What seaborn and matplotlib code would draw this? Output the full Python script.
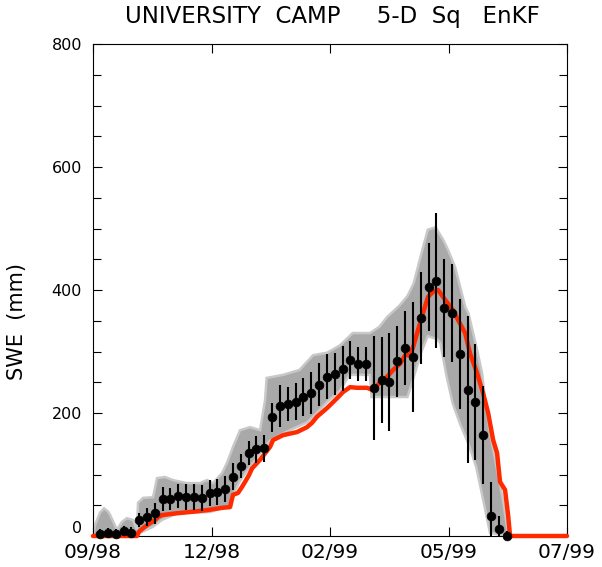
import numpy as np
import pandas as pd
import matplotlib
matplotlib.use("Agg")
import matplotlib.pyplot as plt
import seaborn as sns

# x axis: days since 1 Sep 1998 (axis runs to 1 Jul 1999)
x_ticks = [0, 75.75, 151.5, 227.25, 303]
x_ticklabels = ["09/98", "12/98", "02/99", "05/99", "07/99"]
y_ticks = [0, 200, 400, 600, 800]

# simulated truth SWE (mm)
truth_day = [0, 28.1, 29.4, 33.2, 36.4, 39.6, 41.6, 44.1, 53.7, 62.0, 72.9, 83.1,
             87.6, 89.5, 92.7, 95.3, 97.2, 99.7, 101.7, 106.8, 113.2, 115.1, 121.5,
             130.4, 136.8, 140.0, 143.2, 149.6, 156.0, 159.8, 164.3, 168.8, 175.2,
             179.0, 183.5, 188.0, 191.8, 196.3, 199.5, 202.7, 204.6, 207.2, 211.0,
             214.2, 217.4, 220.6, 225.1, 230.2, 233.4, 237.9, 241.0, 245.5, 249.4,
             252.6, 255.8, 258.3, 260.2, 263.4, 265.3, 266.6, 303]
truth_swe = [0, 0, 7, 15, 21, 26, 31, 34, 37, 39, 42, 46,
             47, 67, 70, 80, 88, 99, 110, 124, 145, 156, 164,
             169, 177, 184, 194, 208, 224, 234, 242, 241, 241,
             237, 250, 259, 270, 280, 294, 294, 307, 330, 363,
             389, 397, 400, 384, 367, 351, 330, 297, 265, 232,
             200, 156, 135, 88, 75, 35, 0, 0]

# 5-day analysis: ensemble mean and spread
obs_day = np.arange(4.5, 265, 5)
obs_swe = [3, 5, 3, 8, 5, 26, 31, 37, 60, 60, 65, 63, 63, 62, 70, 72, 76,
           96, 114, 135, 141, 143, 193, 211, 215, 218, 226, 233, 246, 259, 263,
           272, 286, 280, 280, 241, 254, 250, 284, 306, 291, 354, 405, 415, 371,
           363, 296, 238, 218, 164, 33, 11, 0]
obs_err = [8, 8, 8, 9, 9, 12, 14, 17, 20, 18, 20, 21, 21, 21, 21, 21, 21,
           22, 20, 20, 22, 22, 24, 34, 28, 30, 31, 34, 35, 37, 34, 37, 31, 28,
           28, 85, 70, 80, 58, 60, 90, 75, 72, 110, 80, 80, 90, 120, 95, 80,
           55, 22, 8]

# ensemble envelope (upper / lower member bounds)
ens_hi_day = [0, 1.3, 4.5, 7, 9.6, 11, 15.3, 18.5, 21.7, 25.6, 28.1, 28.8, 32, 38.4,
              40.9, 46, 51, 60, 68.4, 72.9, 76.7, 82.4, 85.7, 89.5, 94, 100.4, 106.8,
              110, 111, 121.5, 132, 140.7, 149.6, 157.9, 166, 172.6, 177, 183, 188,
              196, 201, 205, 210, 214, 219, 224, 227, 231.5, 234.7, 238, 240, 243,
              246, 248.7, 250.6, 253.8, 258, 262, 265.3, 266]
ens_hi_swe = [0, 18, 38, 45, 40, 34, 10, 23, 29, 26, 10, 54, 62, 63,
              94, 96, 91, 86, 86, 91, 86, 102, 119, 145, 172, 177, 172,
              221, 257, 262, 270, 294, 298, 310, 330, 330, 330, 340, 356,
              375, 390, 411, 460, 498, 502, 481, 465, 437, 405, 372, 362, 330,
              297, 265, 221, 167, 112, 59, 5, 0]
ens_lo_day = [0, 28, 30, 38.4, 44, 54, 75, 83, 87.6, 89.5, 94, 102, 113, 124, 137,
              143, 149.6, 158, 162, 164, 177, 178, 201, 204, 210, 214, 220, 222,
              226, 230, 235, 240, 245, 249.4, 253.8, 266]
ens_lo_swe = [0, 0, 5, 15, 26, 37, 39, 46, 47, 67, 90, 118, 155, 170, 185,
              200, 218, 237, 254, 262, 262, 226, 226, 250, 300, 325, 320, 314,
              260, 215, 180, 150, 112, 59, 5, 0]

truth = pd.DataFrame({"day": truth_day, "swe": truth_swe})
obs = pd.DataFrame({"day": obs_day, "swe": obs_swe, "err": obs_err})

sns.set_style("ticks")
plt.rcParams["font.family"] = ["DejaVu Sans"]
plt.rcParams["text.color"] = "black"
plt.rcParams["axes.labelcolor"] = "black"
plt.rcParams["xtick.color"] = "black"
plt.rcParams["ytick.color"] = "black"

fig = plt.figure(figsize=(6.02, 5.67), dpi=100)
ax = fig.add_axes([93 / 602, 1 - 536 / 567, 474 / 602, 492 / 567])

# ensemble members as a shaded envelope
env_x = np.r_[ens_hi_day, ens_lo_day[::-1]]
env_y = np.r_[ens_hi_swe, ens_lo_swe[::-1]]
ax.fill(env_x, env_y, facecolor="#a9a9a9", edgecolor="#c8c8c8",
        linewidth=1.8, zorder=1)

sns.lineplot(data=truth, x="day", y="swe", color="#ff2a00", linewidth=3.2,
             sort=False, estimator=None, ax=ax, zorder=3)
for ln in ax.get_lines():
    ln.set_clip_on(False)

ax.errorbar(obs["day"], obs["swe"], yerr=obs["err"], fmt="none",
            ecolor="black", elinewidth=1.5, capsize=0, zorder=4)
sns.scatterplot(data=obs, x="day", y="swe", color="black", s=40,
                marker="o", edgecolor="black", linewidth=0.5, ax=ax, zorder=5)
ax.collections[-1].set_clip_on(False)

ax.set_xlim(0, 303)
ax.set_ylim(0, 800)
ax.set_xticks(x_ticks)
ax.set_xticklabels(x_ticklabels)
ax.set_yticks(y_ticks)
ax.set_yticks(np.arange(0, 801, 50), minor=True)
ax.tick_params(axis="both", which="both", direction="in", top=True,
               right=True, color="black", width=0.8)
ax.tick_params(axis="both", which="major", length=6.5)
ax.tick_params(axis="x", which="major", labelsize=14.5, pad=5)
ax.tick_params(axis="y", which="major", labelsize=11.5, pad=8)
ax.tick_params(axis="y", which="minor", length=5.5)
ax.tick_params(axis="x", which="minor", length=0)
ax.get_yticklabels()[0].set_va("bottom")
for s in ax.spines.values():
    s.set_linewidth(0.8)
    s.set_color("black")

ax.set_xlabel("")
ax.set_ylabel("SWE  (mm)", fontsize=15)
ax.yaxis.set_label_coords(-0.139, (536 - 322) / 492)

fig.text(125 / 602, 1 - 17 / 567, "UNIVERSITY  CAMP     5-D  Sq   EnKF",
         ha="left", va="center", fontsize=16.5)

fig.savefig("out.png", dpi=100)
